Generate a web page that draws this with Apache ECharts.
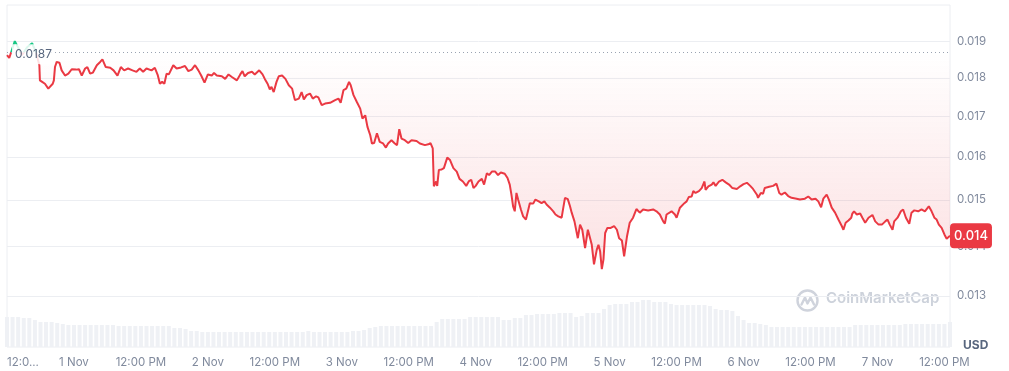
<!DOCTYPE html>
<html><head><meta charset="utf-8">
<script src="https://cdn.jsdelivr.net/npm/echarts@6/dist/echarts.min.js"></script>
<style>html,body{margin:0;padding:0;background:#fff}#c{width:1009px;height:371px}</style>
</head><body><div id="c"></div>
<script>
// hours since 31 Oct 12:00 PM
const hours = [0,0.4,1.4,2.7,3.6,4.5,5.2,5.8,5.9,6.3,6.8,7.4,7.7,8.2,8.4,8.6,8.9,9.4,9.8,10.4,11.0,11.6,12.4,12.9,13.4,14.0,14.4,14.9,15.4,16.1,16.7,17.1,17.7,18.5,19.1,19.8,20.4,21.0,21.7,22.5,23.2,23.8,24.4,25.0,25.9,26.5,27.0,27.4,27.8,28.2,28.6,29.0,29.8,30.4,31.2,31.9,32.5,33.1,33.7,34.3,34.8,35.4,36.0,36.7,37.1,37.6,38.5,39.1,39.7,40.3,41.2,41.8,42.2,42.6,43.2,43.9,44.4,45.2,45.8,46.2,46.7,47.1,47.4,47.8,48.3,48.7,49.3,49.9,50.5,51.1,51.6,51.9,52.3,52.8,53.2,53.7,54.3,54.8,55.4,55.8,56.4,57.0,57.9,58.8,59.4,59.8,60.3,60.8,61.3,61.6,62.1,62.7,63.3,63.7,64.2,64.6,65.1,65.4,65.8,66.3,66.5,66.8,67.4,67.9,68.3,68.9,69.5,69.9,70.3,70.7,71.3,71.9,72.5,73.4,74.0,74.9,75.5,75.9,76.3,76.5,76.9,77.1,77.4,77.9,78.3,78.9,79.4,80.0,80.6,81.1,81.7,82.3,82.8,83.2,83.6,84.0,84.5,85.1,85.5,86.0,86.4,86.9,87.5,88.0,88.5,89.2,89.7,90.1,90.4,90.7,91.0,91.3,91.6,92.1,92.5,93.0,93.3,93.7,94.3,94.7,95.3,95.8,96.3,96.7,97.3,97.9,98.3,98.8,99.4,99.7,100.0,100.5,100.9,101.2,101.7,102.3,102.7,103.1,103.6,104.1,104.5,104.8,105.2,105.7,106.0,106.3,106.6,106.9,107.2,107.6,108.2,108.8,109.3,109.7,110.2,110.6,111.1,111.6,112.2,112.8,113.4,114.0,114.9,115.8,116.4,117.0,117.6,117.9,118.2,119.1,119.7,120.0,120.6,121.4,121.8,122.2,122.7,123.0,123.4,124.0,124.5,125.0,125.2,125.7,126.3,126.6,127.0,127.6,128.2,128.8,129.4,130.0,130.8,131.4,132.0,132.6,133.2,133.7,134.4,134.6,135.1,135.5,135.8,136.6,137.3,137.9,138.4,138.8,139.4,140.0,140.6,141.5,142.1,143.0,143.6,144.2,144.9,145.4,145.9,146.3,146.9,147.3,147.8,148.4,149.0,149.6,149.9,150.3,150.8,151.3,151.5,151.8,152.3,152.9,153.3,153.8,154.4,155.1,155.6,156.2,156.8,157.4,157.8,158.2,158.7,159.0,159.6,160.2,160.6,161.1,161.7,162.1,162.6,163.3,163.9,164.5,165.2,165.7,166.2,166.6,167.0,167.5,168.0,168.4,169.0];
const prices = [0.01862,0.01854,0.01901,0.01862,0.01884,0.01895,0.01870,0.01834,0.01793,0.01789,0.01784,0.01771,0.01774,0.01784,0.01793,0.01829,0.01843,0.01841,0.01820,0.01806,0.01811,0.01823,0.01822,0.01823,0.01806,0.01825,0.01829,0.01811,0.01814,0.01834,0.01843,0.01850,0.01829,0.01827,0.01820,0.01806,0.01829,0.01820,0.01825,0.01820,0.01816,0.01825,0.01816,0.01825,0.01820,0.01827,0.01808,0.01784,0.01789,0.01784,0.01811,0.01809,0.01834,0.01825,0.01828,0.01832,0.01818,0.01822,0.01834,0.01820,0.01806,0.01787,0.01809,0.01806,0.01813,0.01806,0.01804,0.01797,0.01809,0.01802,0.01793,0.01809,0.01818,0.01804,0.01813,0.01816,0.01809,0.01820,0.01809,0.01797,0.01784,0.01769,0.01776,0.01762,0.01789,0.01804,0.01806,0.01797,0.01780,0.01771,0.01741,0.01736,0.01745,0.01762,0.01743,0.01754,0.01758,0.01745,0.01751,0.01748,0.01728,0.01732,0.01734,0.01741,0.01745,0.01734,0.01767,0.01771,0.01789,0.01780,0.01754,0.01736,0.01719,0.01694,0.01702,0.01673,0.01652,0.01632,0.01633,0.01657,0.01658,0.01636,0.01632,0.01622,0.01632,0.01640,0.01632,0.01628,0.01667,0.01644,0.01640,0.01633,0.01640,0.01638,0.01632,0.01628,0.01630,0.01633,0.01620,0.01531,0.01542,0.01532,0.01569,0.01570,0.01573,0.01598,0.01592,0.01573,0.01565,0.01548,0.01542,0.01532,0.01543,0.01546,0.01527,0.01532,0.01542,0.01548,0.01535,0.01561,0.01557,0.01565,0.01565,0.01557,0.01563,0.01560,0.01550,0.01535,0.01512,0.01486,0.01475,0.01516,0.01501,0.01479,0.01464,0.01457,0.01461,0.01493,0.01492,0.01501,0.01497,0.01493,0.01497,0.01490,0.01483,0.01475,0.01468,0.01464,0.01461,0.01483,0.01505,0.01502,0.01486,0.01472,0.01453,0.01417,0.01446,0.01435,0.01396,0.01435,0.01417,0.01403,0.01363,0.01393,0.01403,0.01389,0.01353,0.01373,0.01428,0.01439,0.01439,0.01443,0.01435,0.01417,0.01412,0.01379,0.01420,0.01450,0.01461,0.01480,0.01472,0.01479,0.01477,0.01479,0.01475,0.01468,0.01453,0.01448,0.01468,0.01475,0.01468,0.01461,0.01483,0.01493,0.01497,0.01507,0.01508,0.01520,0.01516,0.01520,0.01527,0.01542,0.01523,0.01531,0.01535,0.01540,0.01532,0.01542,0.01546,0.01540,0.01535,0.01527,0.01525,0.01531,0.01536,0.01539,0.01532,0.01525,0.01512,0.01505,0.01516,0.01514,0.01527,0.01530,0.01532,0.01537,0.01516,0.01512,0.01517,0.01509,0.01505,0.01503,0.01501,0.01503,0.01508,0.01501,0.01503,0.01497,0.01484,0.01503,0.01512,0.01501,0.01483,0.01472,0.01457,0.01443,0.01435,0.01450,0.01455,0.01461,0.01470,0.01475,0.01468,0.01470,0.01461,0.01450,0.01461,0.01467,0.01453,0.01446,0.01446,0.01453,0.01457,0.01446,0.01435,0.01453,0.01461,0.01475,0.01479,0.01461,0.01448,0.01472,0.01477,0.01475,0.01479,0.01475,0.01486,0.01475,0.01461,0.01457,0.01446,0.01439,0.01425,0.01416,0.01422];
// hourly volume (relative units), hour 0..169
const volumes = [30,30,30,29,29,27,25,25,25,24,23,22,22,22,22,22,22,22,22,22,21,21,21,21,21,21,21,21,21,21,19,19,18,16,16,15,15,15,15,15,15,15,15,15,15,15,15,15,15,15,15,15,15,15,16,15,15,15,15,15,15,15,16,16,17,19,20,21,21,21,21,21,21,21,21,21,21,25,28,28,28,28,28,30,30,30,30,30,30,27,27,29,29,32,32,33,33,33,33,34,34,34,30,31,34,34,34,38,42,43,43,43,45,45,47,47,45,45,45,43,42,42,42,42,42,42,41,38,37,37,36,31,27,24,24,23,22,20,20,20,20,20,20,20,20,20,20,20,20,20,20,20,22,22,22,22,22,22,22,22,22,23,23,23,23,23,23,23,23,25];
const baselinePrice = 0.0187;
const baselineLabel = '0.0187';
const lastPriceLabel = '0.014';
const yTicks = [0.013, 0.014, 0.015, 0.016, 0.017, 0.018, 0.019];
const xTickHours = [0,12,24,36,48,60,72,84,96,108,120,132,144,156,168];
const xTickLabels = ['12:0...','1 Nov','12:00 PM','2 Nov','12:00 PM','3 Nov','12:00 PM','4 Nov','12:00 PM','5 Nov','12:00 PM','6 Nov','12:00 PM','7 Nov','12:00 PM'];

const RED = '#ea3943', GREEN = '#16c784', GREY = '#808a9d', GRID = '#eceef2';
const H = 371;
const X_MIN = 0, X_MAX = 169;
const chart = echarts.init(document.getElementById('c'), null, {renderer: 'canvas'});
chart.setOption({
  animation: false,
  textStyle: {fontFamily: 'Inter'},
  grid: {left: 7, right: 59, top: 5, bottom: 24, show: true, borderColor: GRID, borderWidth: 1},
  xAxis: {
    type: 'value', min: X_MIN, max: X_MAX,
    axisLine: {show: false}, axisTick: {show: false}, splitLine: {show: false},
    axisLabel: {
      customValues: xTickHours,
      formatter: v => xTickLabels[xTickHours.indexOf(v)],
      color: GREY, fontFamily: 'Inter', fontSize: 11.5, margin: 10,
      alignMinLabel: 'left'
    }
  },
  yAxis: [{
    type: 'log', logBase: 10, position: 'right', min: 0.012048, max: 0.020063,
    axisLine: {show: false},
    axisTick: {show: false, customValues: yTicks},
    axisLabel: {customValues: yTicks, formatter: v => Number(v).toFixed(3), color: GREY, fontFamily: 'Inter', fontSize: 11.5, margin: 7},
    splitLine: {show: true, lineStyle: {color: GRID, width: 1}}
  }, {
    type: 'value', min: 0, max: 342, show: false, splitLine: {show: false}
  }],
  series: [{
    type: 'bar', yAxisIndex: 1, silent: true, barWidth: 4,
    data: volumes.map((v, i) => [i, v]),
    itemStyle: {color: '#eff1f5'}
  }, {
    type: 'line', yAxisIndex: 0, showSymbol: false, silent: true,
    data: hours.map((h, i) => [h, prices[i]]),
    lineStyle: {width: 2, color: RED},
    areaStyle: {origin: 'end', color: 'rgba(234,57,67,0.1)'},
    endLabel: {
      show: true, formatter: lastPriceLabel, color: '#fff', backgroundColor: RED,
      borderRadius: 4, padding: [6, 4], fontSize: 13, fontFamily: 'Inter', fontWeight: 500, distance: 0
    },
    markLine: {
      silent: true, symbol: 'none',
      lineStyle: {color: '#9aa2b1', type: [1, 3], width: 1},
      label: {
        show: true, formatter: baselineLabel, position: 'insideStartTop',
        color: '#58667e', fontSize: 12, fontFamily: 'Inter',
        backgroundColor: 'rgba(255,255,255,0.85)', padding: [4, 3], offset: [0, 17]
      },
      data: [[{coord: [X_MIN, baselinePrice]}, {coord: [X_MAX, baselinePrice]}]]
    }
  }],
  graphic: [
    {type: 'group', left: 795, top: 288, silent: true, z: 1, children: [
      {type: 'circle', shape: {cx: 11, cy: 11, r: 10}, style: {fill: 'none', stroke: '#cfd3dc', lineWidth: 2.4}},
      {type: 'polyline', shape: {points: [[5, 15], [8.5, 8], [11, 14], [14, 8], [17.5, 15]]}, style: {fill: 'none', stroke: '#cfd3dc', lineWidth: 2.4, lineJoin: 'round', lineCap: 'round'}}
    ]},
    {type: 'text', left: 826, top: 291, silent: true, style: {text: 'CoinMarketCap', fill: '#cdd2db', font: '600 15px Inter'}},
    {type: 'text', left: 963, top: 339, silent: true, style: {text: 'USD', fill: '#58667e', font: 'bold 12px Inter'}}
  ]
});
// colour the line green above the baseline price and red below, using the axis scale
const yb = chart.convertToPixel({yAxisIndex: 0}, baselinePrice);
const ylow = chart.convertToPixel({yAxisIndex: 0}, 0.0135);
const f = yb / H;
chart.setOption({
  series: [{}, {
    lineStyle: {color: new echarts.graphic.LinearGradient(0, 0, 0, H, [
      {offset: 0, color: GREEN}, {offset: f, color: GREEN},
      {offset: f, color: RED}, {offset: 1, color: RED}
    ], true)},
    areaStyle: {color: new echarts.graphic.LinearGradient(0, yb, 0, ylow, [
      {offset: 0, color: 'rgba(234,57,67,0)'},
      {offset: 1, color: 'rgba(234,57,67,0.22)'}
    ], true)}
  }]
});
</script></body></html>
